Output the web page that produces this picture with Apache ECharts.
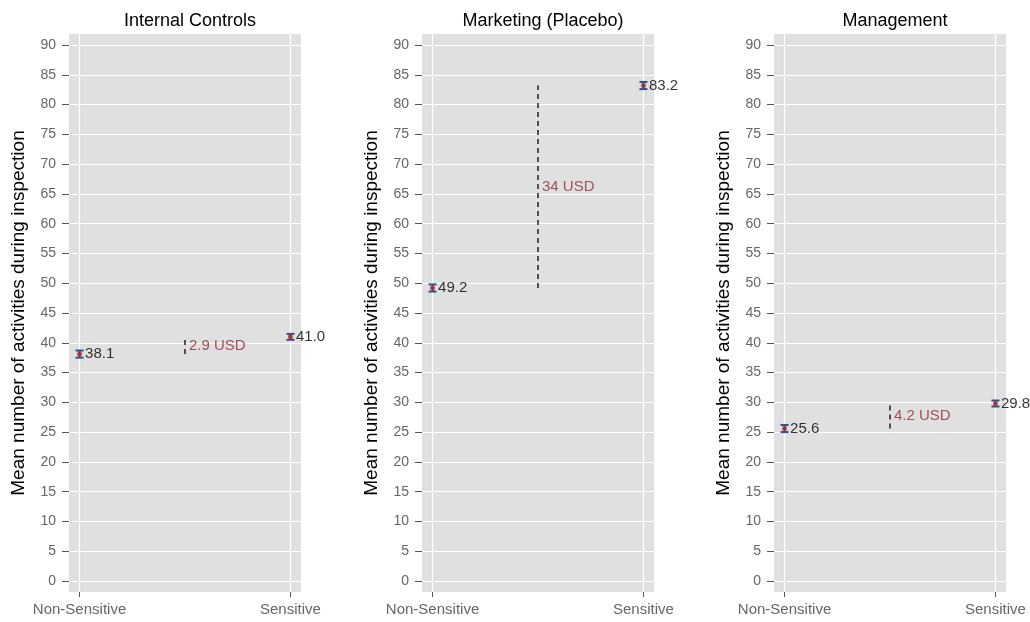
<!DOCTYPE html>
<html><head><meta charset="utf-8">
<script src="https://cdn.jsdelivr.net/npm/echarts@6/dist/echarts.min.js"></script>
<style>html,body{margin:0;padding:0;background:#fff}#c{width:1030px;height:622px}</style>
</head><body><div id="c"></div>
<script>
const panels = ['Internal Controls', 'Marketing (Placebo)', 'Management'];
const categories = ['Non-Sensitive', 'Sensitive'];
const nonSensitive = [38.1, 49.2, 25.6];
const sensitive = [41.0, 83.2, 29.8];
const stdErrNon = [0.6, 0.6, 0.6];
const stdErrSen = [0.5, 0.6, 0.5];
const diffLabels = ['2.9 USD', '34 USD', '4.2 USD'];
const yTicks = [0,5,10,15,20,25,30,35,40,45,50,55,60,65,70,75,80,85,90];
const xTicks = [1, 2];

const FONT = 'Liberation Sans, Arial, sans-serif';
const gridLefts = [69, 422, 774];
const gridWidth = 232;
const chart = echarts.init(document.getElementById('c'));

const grids = [], xAxes = [], yAxes = [], titles = [], series = [];
panels.forEach((p, i) => {
  grids.push({left: gridLefts[i], width: gridWidth, top: 34, height: 558,
    show: true, backgroundColor: '#e0e0e0', borderWidth: 0});
  titles.push({text: p, left: gridLefts[i] + gridWidth / 2, top: 7, textAlign: 'center',
    textStyle: {fontFamily: FONT, fontSize: 18, fontWeight: 'normal', color: '#000'}});
  xAxes.push({gridIndex: i, type: 'value', min: 0.95, max: 2.05,
    axisLine: {show: false, onZero: false},
    axisTick: {show: true, customValues: xTicks, length: 5, lineStyle: {color: '#555'}},
    axisLabel: {customValues: xTicks, formatter: v => categories[Math.round(v) - 1],
      color: '#666', fontFamily: FONT, fontSize: 15, margin: 10},
    splitLine: {show: true, lineStyle: {color: '#fff', width: 1.2}}});
  yAxes.push({gridIndex: i, type: 'value', min: -1.85, max: 91.85,
    name: 'Mean number of activities during inspection', nameLocation: 'middle', nameGap: 41,
    nameTextStyle: {fontFamily: FONT, fontSize: 19, color: '#000'},
    axisLine: {show: false, onZero: false},
    axisTick: {show: true, customValues: yTicks, length: 7, lineStyle: {color: '#555'}},
    axisLabel: {customValues: yTicks, color: '#666', fontFamily: FONT, fontSize: 14, margin: 13},
    splitLine: {show: true, lineStyle: {color: '#fff', width: 1.2}}});

  const pts = [[1, nonSensitive[i], stdErrNon[i]], [2, sensitive[i], stdErrSen[i]]];
  series.push({type: 'custom', xAxisIndex: i, yAxisIndex: i, z: 3, silent: true,
    data: pts,
    renderItem: (params, api) => {
      const x = api.value(0), y = api.value(1), e = api.value(2);
      const top = api.coord([x, y + e]), bot = api.coord([x, y - e]);
      const hw = 4;
      const st = {stroke: '#2d5288', lineWidth: 2};
      return {type: 'group', children: [
        {type: 'line', shape: {x1: top[0], y1: top[1], x2: bot[0], y2: bot[1]}, style: st},
        {type: 'line', shape: {x1: top[0]-hw, y1: top[1], x2: top[0]+hw, y2: top[1]}, style: st},
        {type: 'line', shape: {x1: bot[0]-hw, y1: bot[1], x2: bot[0]+hw, y2: bot[1]}, style: st}
      ]};
    }});
  series.push({type: 'scatter', xAxisIndex: i, yAxisIndex: i, z: 4, silent: true,
    symbol: 'circle', symbolSize: 5, itemStyle: {color: '#b02a2a'},
    data: pts.map(d => [d[0], d[1]]),
    label: {show: true, position: 'right', distance: 3, formatter: p => p.value[1].toFixed(1),
      color: '#000', fontFamily: FONT, fontSize: 15}});
  series.push({type: 'line', xAxisIndex: i, yAxisIndex: i, z: 3, silent: true, symbol: 'none',
    lineStyle: {color: '#000', width: 1.3, type: [5, 4]},
    data: [[1.5, nonSensitive[i]], [1.5, sensitive[i]]]});
  series.push({type: 'scatter', xAxisIndex: i, yAxisIndex: i, z: 4, silent: true,
    symbolSize: 0,
    data: [[1.5, (nonSensitive[i] + sensitive[i]) / 2]],
    label: {show: true, position: 'right', distance: 4, formatter: () => diffLabels[i],
      color: '#922a32', fontFamily: FONT, fontSize: 15}});
});

chart.setOption({animation: false, title: titles, grid: grids, xAxis: xAxes, yAxis: yAxes, series: series});
</script></body></html>
